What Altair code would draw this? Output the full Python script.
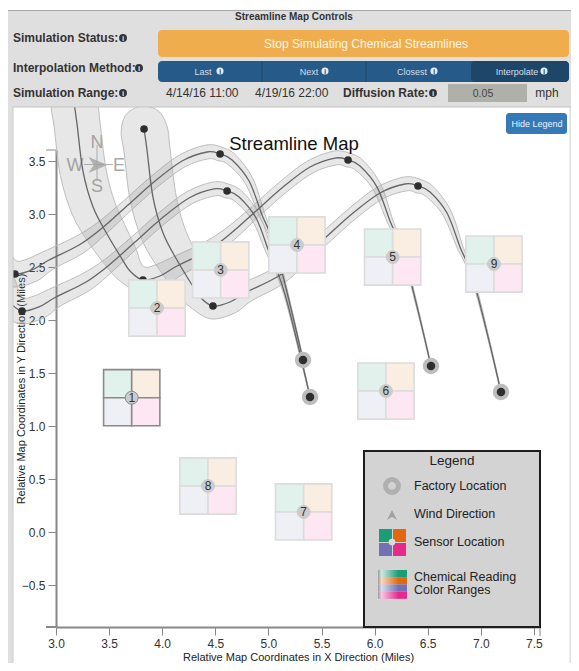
import math
import altair as alt
import pandas as pd

FONT = "Liberation Sans"
X_TICKS = [3.0, 3.5, 4.0, 4.5, 5.0, 5.5, 6.0, 6.5, 7.0, 7.5]
Y_TICKS = [-0.5, 0.0, 0.5, 1.0, 1.5, 2.0, 2.5, 3.0, 3.5]

SENSOR_ID = [1, 2, 3, 4, 5, 6, 7, 8, 9]
SENSOR_X = [3.713, 3.951, 4.551, 5.269, 6.170, 6.107, 5.332, 4.431, 7.124]
SENSOR_Y = [1.267, 2.113, 2.472, 2.708, 2.594, 1.330, 0.189, 0.434, 2.528]
CELL = 0.265
CELL_FILLS = ["#e1f1ec", "#faede2", "#efeff6", "#fce7f3"]

S1_X = [5.326, 5.223, 5.100, 5.006, 4.940, 4.818, 4.658, 4.545, 4.422, 4.187, 3.933, 3.678, 3.434, 3.217, 2.934, 2.774, 2.614, 2.492, 2.417, 2.275, 2.144]
S1_Y = [1.623, 2.066, 2.557, 2.840, 2.991, 3.311, 3.510, 3.566, 3.585, 3.500, 3.311, 3.085, 2.868, 2.708, 2.566, 2.472, 2.434, 2.519, 2.632, 2.868, 3.123]
S2_X = [5.392, 5.289, 5.166, 5.072, 5.006, 4.884, 4.724, 4.611, 4.488, 4.253, 3.999, 3.744, 3.500, 3.283, 3.000, 2.840, 2.680, 2.558, 2.483, 2.341, 2.210]
S2_Y = [1.274, 1.717, 2.208, 2.491, 2.642, 2.962, 3.161, 3.217, 3.236, 3.151, 2.962, 2.736, 2.519, 2.359, 2.217, 2.123, 2.085, 2.170, 2.283, 2.519, 2.774]
S3_X = [6.531, 6.428, 6.305, 6.211, 6.145, 6.023, 5.863, 5.750, 5.627, 5.392, 5.138, 4.883, 4.639, 4.422, 4.139, 3.979, 3.819, 3.697, 3.622, 3.480, 3.349, 3.254, 3.198, 3.170]
S3_Y = [1.566, 2.009, 2.500, 2.783, 2.934, 3.254, 3.453, 3.509, 3.528, 3.443, 3.254, 3.028, 2.811, 2.651, 2.509, 2.415, 2.377, 2.462, 2.575, 2.811, 3.066, 3.405, 3.849, 4.047]
S4_X = [7.190, 7.087, 6.964, 6.870, 6.804, 6.682, 6.522, 6.409, 6.286, 6.051, 5.797, 5.542, 5.298, 5.081, 4.798, 4.638, 4.478, 4.356, 4.281, 4.139, 4.008, 3.913, 3.857, 3.829]
S4_Y = [1.321, 1.764, 2.255, 2.538, 2.689, 3.009, 3.208, 3.264, 3.283, 3.198, 3.009, 2.783, 2.566, 2.406, 2.264, 2.170, 2.132, 2.217, 2.330, 2.566, 2.821, 3.160, 3.604, 3.802]
BAND = [0.003, 0.006, 0.011, 0.019, 0.028, 0.042, 0.057, 0.066, 0.066, 0.061, 0.057, 0.057, 0.066, 0.085, 0.094, 0.113, 0.123, 0.132, 0.160, 0.189, 0.208, 0.217, 0.217, 0.217]
STREAMS = [(S1_X, S1_Y), (S2_X, S2_Y), (S3_X, S3_Y), (S4_X, S4_Y)]
KNOT_IDX = [7, 16]

PW, PH = 484, 477
OX, OY = 56, 150
CANVAS_W, CANVAS_H = 563, 655
xs = alt.Scale(domain=[3.0, 3.0 + PW / 106.2], nice=False, zero=False)
ys = alt.Scale(domain=[3.5 - (627 - 161) / 106, 3.5 - (150 - 161) / 106], nice=False, zero=False)
ONE = alt.Data(values=[{}])

axis_common = dict(domainColor="#888888", domainWidth=2, tickColor="#888888", tickWidth=1, tickSize=8,
                   labelColor="#333333", labelFont=FONT, labelFontSize=12, format=".1f", labelFlush=False,
                   titleFont=FONT, titleFontSize=11, titleFontWeight="normal", titleColor="#222222",
                   grid=False, labelPadding=3)
xax = alt.Axis(values=X_TICKS, title="Relative Map Coordinates in X Direction (Miles)", titlePadding=2.5, **axis_common)
yax = alt.Axis(values=Y_TICKS, title="Relative Map Coordinates in Y Direction (Miles)", titlePadding=-5, **axis_common)


def X(f, **k):
    return alt.X(f, scale=xs, axis=xax, **k)


def Y(f, **k):
    return alt.Y(f, scale=ys, axis=yax, **k)


def box(x0, y0, x1, y1, fill="transparent", **mk):
    return alt.Chart(ONE).mark_rect(fill=fill, **mk).encode(
        x=alt.value(x0 - OX), x2=alt.value(x1 - OX), y=alt.value(y0 - OY), y2=alt.value(y1 - OY))


def txt(s, x, y, size=12, color="#333333", align="left", bold=False, opacity=1):
    return alt.Chart(ONE).mark_text(
        font=FONT, fontSize=size, color=color, align=align, baseline="middle",
        fontWeight="bold" if bold else "normal", opacity=opacity, text=s,
    ).encode(x=alt.value(x - OX), y=alt.value(y - OY))


def dot(x, y, size, color, **mk):
    return alt.Chart(ONE).mark_circle(size=size, color=color, opacity=1, **mk).encode(
        x=alt.value(x - OX), y=alt.value(y - OY))


def info(x, y, bg="#333333", fg="#dfdfdf", size=62):
    return [dot(x, y, size, bg), txt("i", x, y + 0.5, size=8, color=fg, align="center", bold=True)]


def band_polygon(px, py, hw):
    n = len(px)
    upper, lower = [], []
    for i in range(n):
        a, b = max(i - 1, 0), min(i + 1, n - 1)
        dx, dy = px[b] - px[a], py[b] - py[a]
        d = math.hypot(dx, dy) or 1
        nx, ny = -dy / d, dx / d
        upper.append((px[i] + nx * hw[i], py[i] + ny * hw[i]))
        lower.append((px[i] - nx * hw[i], py[i] - ny * hw[i]))
    dx, dy = px[-1] - px[-2], py[-1] - py[-2]
    d = math.hypot(dx, dy) or 1
    ux, uy = dx / d, dy / d
    nx, ny = -uy, ux
    r = hw[n - 1]
    cap = [(px[-1] + r * (ux * c + nx * s), py[-1] + r * (uy * c + ny * s))
           for c, s in ((0.707, 0.707), (1, 0), (0.707, -0.707))]
    pts = upper + cap + lower[::-1]
    return pd.DataFrame({"x": [p[0] for p in pts], "y": [p[1] for p in pts], "i": range(len(pts))})


layers = []

# base layer holding the axes
base_df = pd.DataFrame({"x": [3.0], "y": [0.0]})
layers.append(alt.Chart(base_df).mark_point(opacity=0).encode(x=X("x:Q"), y=Y("y:Q")))
layers.append(box(46, 149.5, 56, 150.5, fill="#888888"))
layers.append(box(46, 626, 56, 628, fill="#888888"))
layers.append(box(539.5, 627, 540.5, 636, fill="#888888"))

# compass
GREY = "#b5b5b5"
layers.append(box(96.5, 145, 97.5, 181, fill=GREY))
layers.append(box(84, 164, 113, 165, fill=GREY))
layers.append(alt.Chart(ONE).mark_point(
    shape="M-1,-0.85 L1,0 L-1,0.85 L-0.45,0 Z", filled=True, color="#aaaaaa", opacity=0.8, size=361,
).encode(x=alt.value(98 - OX), y=alt.value(165 - OY)))
for s, x, y in [("N", 97, 143), ("W", 75, 166), ("E", 119, 166), ("S", 97, 187)]:
    layers.append(txt(s, x, y, size=18, color="#aaaaaa", align="center"))

# uncertainty bands and centre lines
for sx, sy in STREAMS:
    poly = band_polygon(sx, sy, BAND)
    layers.append(alt.Chart(poly).mark_line(
        interpolate="cardinal-closed", fill="#888888", fillOpacity=0.2, stroke="#bdbdbd", strokeWidth=1,
    ).encode(x=X("x:Q"), y=Y("y:Q"), order="i:Q"))

line_rows = [{"s": k, "i": i, "x": a, "y": b} for k, (sx, sy) in enumerate(STREAMS) for i, (a, b) in enumerate(zip(sx, sy))]
layers.append(alt.Chart(pd.DataFrame(line_rows)).mark_line(
    interpolate="cardinal", color="#666666", strokeWidth=1.3,
).encode(x=X("x:Q"), y=Y("y:Q"), detail="s:N", order="i:Q"))

fact = pd.DataFrame({"x": [s[0][0] for s in STREAMS], "y": [s[1][0] for s in STREAMS]})
layers.append(alt.Chart(fact).mark_circle(size=270, color="#bdbdbd", opacity=1).encode(x=X("x:Q"), y=Y("y:Q")))
layers.append(alt.Chart(fact).mark_circle(size=72, color="#2e2e2e", opacity=1).encode(x=X("x:Q"), y=Y("y:Q")))
knots = pd.DataFrame({"x": [s[0][i] for s in STREAMS for i in KNOT_IDX] + [S3_X[-1], S4_X[-1]],
                      "y": [s[1][i] for s in STREAMS for i in KNOT_IDX] + [S3_Y[-1], S4_Y[-1]]})
layers.append(alt.Chart(knots).mark_circle(size=58, color="#2e2e2e", opacity=1).encode(x=X("x:Q"), y=Y("y:Q")))

# sensors
cells = []
for sid, sxv, syv in zip(SENSOR_ID, SENSOR_X, SENSOR_Y):
    edge = "#8a8a8a" if sid == 1 else "#dcdcdc"
    for k, (cx, cy) in enumerate([(-1, 1), (0, 1), (-1, 0), (0, 0)]):
        cells.append({"x": sxv + cx * CELL, "x2": sxv + (cx + 1) * CELL,
                      "y": syv + cy * CELL, "y2": syv + (cy - 1) * CELL,
                      "fill": CELL_FILLS[k], "edge": edge, "sid": sid})
layers.append(alt.Chart(pd.DataFrame(cells)).mark_rect(strokeWidth=1.6).encode(
    x=X("x:Q"), x2="x2:Q", y=Y("y:Q"), y2="y2:Q",
    fill=alt.Fill("fill:N", scale=None), stroke=alt.Stroke("edge:N", scale=None), order="sid:Q"))
sens = pd.DataFrame({"x": SENSOR_X, "y": SENSOR_Y, "id": SENSOR_ID,
                     "ring": ["#8a8a8a" if i == 1 else "#cccccc" for i in SENSOR_ID]})
layers.append(alt.Chart(sens).mark_circle(size=168, color="#cccccc", opacity=1, strokeWidth=1).encode(
    x=X("x:Q"), y=Y("y:Q"), stroke=alt.Stroke("ring:N", scale=None)))
layers.append(alt.Chart(sens).mark_text(font=FONT, fontSize=12, color="#333333", baseline="middle").encode(
    x=X("x:Q"), y=Y("y:Q"), text="id:N"))

# page chrome
PANEL = "#dfdfdf"
RIGHT = 571
layers += [
    box(8, 10, RIGHT, 107, fill=PANEL), box(8, 10, RIGHT, 11, fill="#a8a8a8"),
    box(8, 107, 13, 671, fill=PANEL), box(RIGHT - 1.5, 107, RIGHT, 671, fill=PANEL),
    box(12.5, 107, 13.5, 671, fill="#cccccc"), box(13, 106.5, RIGHT, 107.5, fill="#c4c4c4"),
]
layers.append(txt("Streamline Map Controls", 294, 17, size=10, align="center", bold=True))
for s, x, y, ix in [("Simulation Status:", 13, 38, 123), ("Interpolation Method:", 13, 68, 139), ("Simulation Range:", 13, 93, 123)]:
    layers.append(txt(s, x, y, size=12, bold=True))
    layers += info(ix, y)
layers.append(box(158, 30, 569, 57, fill="#f0ad4e", cornerRadius=4))
layers.append(txt("Stop Simulating Chemical Streamlines", 366, 44, size=12, color="#fdf5e8", align="center"))
layers.append(box(158, 61, 569, 82, fill="#265a88", cornerRadius=4))
layers.append(box(471, 61, 569, 82, fill="#1e4668", cornerRadius=4))
for x in (262, 366):
    layers.append(box(x - 0.5, 61, x + 0.5, 82, fill="#1e4a70"))
for s, x, ix in [("Last", 203, 220), ("Next", 309, 325), ("Closest", 412, 434), ("Interpolate", 517, 544)]:
    layers.append(txt(s, x, 72, size=9, color="#d5dee8", align="center"))
    layers += info(ix, 71, bg="#e8edf2", fg="#265a88", size=50)
layers.append(txt("4/14/16 11:00", 166, 93))
layers.append(txt("4/19/16 22:00", 255, 93))
layers.append(txt("Diffusion Rate:", 343, 93, size=12, bold=True))
layers += info(433, 93)
layers.append(box(448, 84, 527, 102, fill="#b0b0aa"))
layers.append(txt("0.05", 483, 94, size=10.5, color="#444444", align="center"))
layers.append(txt("mph", 547, 93, size=12, align="center"))
layers.append(box(506, 113, 567, 134, fill="#337ab7", cornerRadius=3))
layers.append(txt("Hide Legend", 537, 123.5, size=9, color="#eef4fa", align="center"))
layers.append(txt("Streamline Map", 294, 144, size=18.5, color="#111111", align="center"))

# legend
layers.append(box(364, 451, 540, 627, fill="#d3d3d3", stroke="#1e1e1e", strokeWidth=2))
layers.append(txt("Legend", 452, 461, size=13.5, color="#222222", align="center"))
layers.append(alt.Chart(ONE).mark_circle(size=165, fill="#d3d3d3", stroke="#b0b0b0", strokeWidth=5, opacity=1).encode(
    x=alt.value(392 - OX), y=alt.value(486 - OY)))
layers.append(alt.Chart(ONE).mark_point(
    shape="M-1,1 L0,-1 L1,1 L0,0.35 Z", filled=True, color="#a0a0a0", opacity=1, size=100,
).encode(x=alt.value(392 - OX), y=alt.value(515 - OY)))
for x0, y0, c in [(379, 529, "#1b9e77"), (393, 529, "#e2680f"), (379, 543, "#7570b3"), (393, 543, "#e7298a")]:
    layers.append(box(x0, y0, x0 + 13, y0 + 13, fill=c))
layers.append(dot(392, 542, 45, "#dcdcdc"))
for s, y in [("Factory Location", 486), ("Wind Direction", 514), ("Sensor Location", 542), ("Chemical Reading", 577), ("Color Ranges", 590)]:
    layers.append(txt(s, 414, y, size=12.5, color="#222222"))
for y0, c, pale in [(570, "#1b9e77", "#cfe9e1"), (577.2, "#e2680f", "#f6d9bf"), (584.4, "#7570b3", "#dcdbec"), (591.6, "#e7298a", "#f9c7e2")]:
    layers.append(box(378, y0, 407, y0 + 7.2, fill=alt.LinearGradient(
        gradient="linear", x1=0, x2=1, y1=0, y2=0,
        stops=[alt.GradientStop(color="#9a9a9a", offset=0), alt.GradientStop(color=pale, offset=0.12),
               alt.GradientStop(color=c, offset=0.7), alt.GradientStop(color=c, offset=1)])))

chart = alt.layer(*layers).properties(
    width=PW, height=PH,
    padding={"left": OX - 8, "top": OY - 8, "right": CANVAS_W - (OX - 8) - PW, "bottom": CANVAS_H - (OY - 8) - PH},
    autosize=alt.AutoSizeParams(type="none"),
    background="white",
).configure_view(stroke=None)

chart.save("out.html", embed_options={"renderer": "svg", "actions": False})
